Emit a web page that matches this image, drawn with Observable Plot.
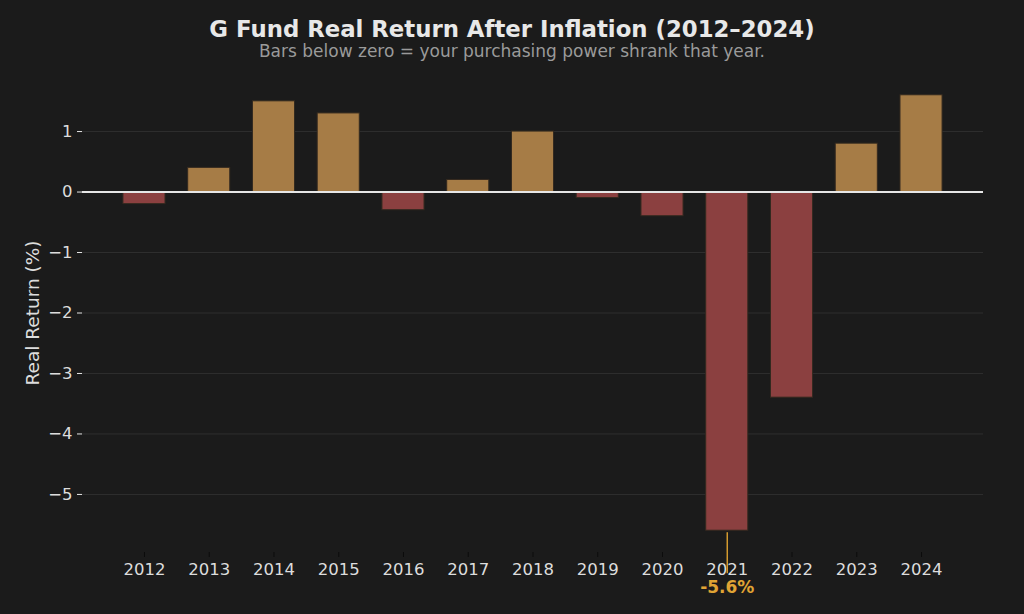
<!DOCTYPE html>
<html>
<head>
<meta charset="utf-8">
<script src="https://cdn.jsdelivr.net/npm/d3@7"></script>
<script src="https://cdn.jsdelivr.net/npm/@observablehq/plot@0.6"></script>
<style>
  html, body { margin: 0; padding: 0; background: #1b1b1b; }
  body { width: 1024px; height: 614px; overflow: hidden; font-family: "DejaVu Sans", sans-serif; }
  #head { height: 64px; text-align: center; position: relative; }
  #title { position: absolute; left: 0; right: 0; top: 15px; font-size: 22.8px; line-height: 28px; font-weight: bold; color: #e8e8e8; }
  #subtitle { position: absolute; left: 0; right: 0; top: 41px; font-size: 17px; line-height: 20px; color: #9a9a9a; }
  #chart svg { display: block; }
</style>
</head>
<body>
<div id="head">
  <div id="title">G Fund Real Return After Inflation (2012–2024)</div>
  <div id="subtitle">Bars below zero = your purchasing power shrank that year.</div>
</div>
<div id="chart"></div>
<script>
const years = [2012, 2013, 2014, 2015, 2016, 2017, 2018, 2019, 2020, 2021, 2022, 2023, 2024];
const realReturns = [-0.2, 0.4, 1.5, 1.3, -0.3, 0.2, 1.0, -0.1, -0.4, -5.6, -3.4, 0.8, 1.6];
const yTicks = [-5, -4, -3, -2, -1, 0, 1];
const annotatedYear = 2021;

const data = years.map((year, i) => ({year, value: realReturns[i]}));
const annotated = data.filter(d => d.year === annotatedYear);

const chart = Plot.plot({
  width: 1024,
  height: 550,
  marginTop: 9,
  marginBottom: 62,
  marginLeft: 82,
  marginRight: 41,
  style: {background: "#1b1b1b", color: "#dddddd", fontFamily: "DejaVu Sans, sans-serif", fontSize: "16px", overflow: "visible"},
  x: {type: "band", domain: years, paddingInner: 0.35, paddingOuter: 0.632, round: false, label: null},
  y: {domain: [-5.96, 1.96], label: null},
  marks: [
    Plot.gridY(yTicks, {stroke: "#2f2f2f", strokeOpacity: 1, strokeWidth: 1}),
    Plot.barY(data, {
      x: "year", y: "value",
      fill: d => d.value >= 0 ? "#a67c46" : "#8b4040",
      stroke: "#33291f", strokeWidth: 1
    }),
    Plot.ruleY([0], {stroke: "#e6e6e6", strokeWidth: 2}),
    Plot.axisY(yTicks, {tickSize: 5, tickPadding: 5, stroke: "#e6e6e6", fill: "#dddddd", fontSize: 16.5, tickFormat: d3.format("d"), label: null}),
    Plot.axisX(years, {tickSize: 5, tickPadding: 6, stroke: "#0c0c0c", fill: "#dddddd", fontSize: 16.5, tickFormat: d => String(d), label: null}),
    Plot.text(["Real Return (%)"], {
      frameAnchor: "left", dx: -49, rotate: -90, text: d => d,
      fill: "#dddddd", fontSize: 18.5, textAnchor: "middle"
    }),
    Plot.ruleX(annotated, {
      x: "year", y1: "value", y2: "value",
      insetTop: 2, insetBottom: -43,
      stroke: "#d49a2e", strokeWidth: 1.5
    }),
    Plot.text(annotated, {
      x: "year", y: "value", text: d => `${d.value}%`,
      dy: 57, fill: "#e0a434", fontWeight: "bold", fontSize: 17
    })
  ]
});
document.getElementById("chart").appendChild(chart);
</script>
</body>
</html>
